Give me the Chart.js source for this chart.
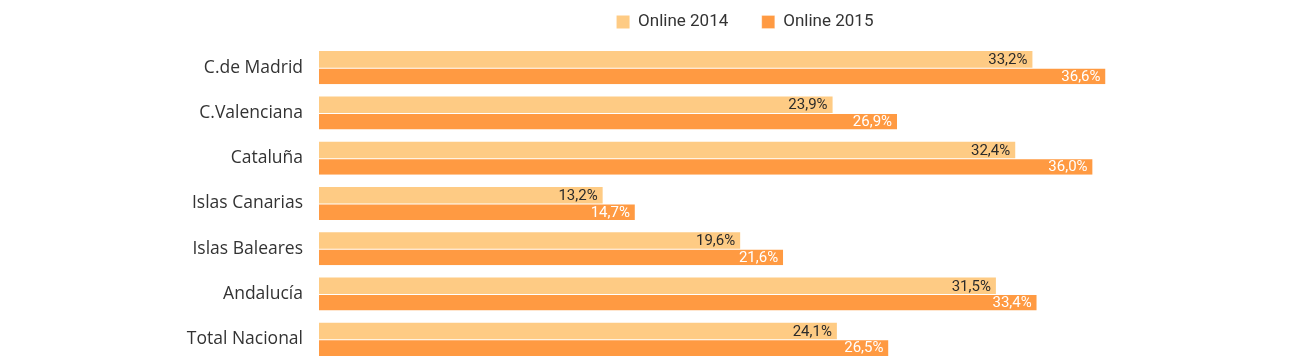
<!DOCTYPE html>
<html>
<head>
<meta charset="utf-8">
<script src="https://cdn.jsdelivr.net/npm/chart.js@4"></script>
<style>
  html, body { margin: 0; padding: 0; background: #fff; overflow: hidden; }
  canvas { display: block; }
</style>
</head>
<body>
<canvas id="chart" width="1292" height="364"></canvas>
<script>
// Data
const regions = ['C.de Madrid', 'C.Valenciana', 'Cataluña', 'Islas Canarias', 'Islas Baleares', 'Andalucía', 'Total Nacional'];
const online2014 = [33.2, 23.9, 32.4, 13.2, 19.6, 31.5, 24.1];
const online2015 = [36.6, 26.9, 36.0, 14.7, 21.6, 33.4, 26.5];

const fmt = v => v.toFixed(1).replace('.', ',') + '%';

// Draw value labels inside the end of each bar
const valueLabels = {
    id: 'valueLabels',
    afterDatasetsDraw(chart) {
        const ctx = chart.ctx;
        ctx.save();
        ctx.font = '15px Roboto, sans-serif';
        ctx.textAlign = 'right';
        ctx.textBaseline = 'middle';
        chart.data.datasets.forEach((ds, i) => {
            const meta = chart.getDatasetMeta(i);
            ctx.fillStyle = i === 0 ? '#2b2b2b' : '#ffffff';
            meta.data.forEach((bar, j) => {
                ctx.fillText(fmt(ds.data[j]), bar.x - 5, bar.y + 1);
            });
        });
        ctx.restore();
    }
};

// Center the legend over the plot and pull it up (wide item gap)
const legendShift = {
    id: 'legendShift',
    afterLayout(chart) {
        const lg = chart.legend;
        const w = lg.right - lg.left;
        const mid = 745;
        lg.left = mid - w / 2;
        lg.right = mid + w / 2;
        lg.top -= 20;
    }
};

new Chart(document.getElementById('chart'), {
    type: 'bar',
    data: {
        labels: regions,
        datasets: [
            {
                label: 'Online 2014',
                data: online2014,
                backgroundColor: '#FECB84',
                borderWidth: 0
            },
            {
                label: 'Online 2015',
                data: online2015,
                backgroundColor: '#FF9A42',
                borderColor: '#ffffff',
                borderWidth: { top: 1, bottom: 0, left: 0, right: 0 },
                borderSkipped: false
            }
        ]
    },
    options: {
        indexAxis: 'y',
        responsive: false,
        animation: false,
        devicePixelRatio: 1,
        datasets: {
            bar: { barPercentage: 1, categoryPercentage: 0.73 }
        },
        layout: { padding: { top: 0, right: 6, bottom: 2, left: 0 } },
        plugins: {
            legend: {
                position: 'top',
                maxHeight: 45,
                labels: {
                    boxWidth: 13,
                    boxHeight: 13,
                    padding: 33.5,
                    color: '#333',
                    font: { size: 17, family: 'Roboto, sans-serif' }
                }
            },
            tooltip: { enabled: false }
        },
        scales: {
            x: {
                display: false,
                min: 0,
                max: 45
            },
            y: {
                grid: { display: false },
                border: { display: false },
                afterFit: scale => {
                    scale.width = 319;
                    scale.paddingTop = 45;
                    scale.paddingBottom = 2;
                },
                ticks: {
                    padding: 8,
                    color: '#333',
                    font: { size: 17.5, family: '"Open Sans", sans-serif' }
                }
            }
        }
    },
    plugins: [valueLabels, legendShift]
});
</script>
</body>
</html>
